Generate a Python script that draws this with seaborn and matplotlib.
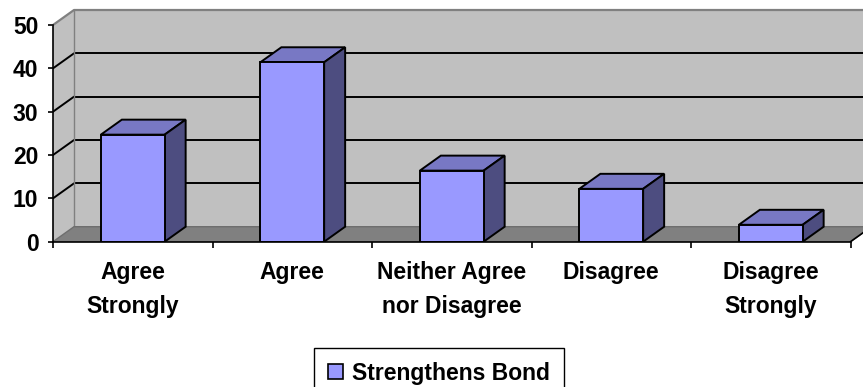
import matplotlib
matplotlib.use("Agg")
import matplotlib.pyplot as plt
from matplotlib.patches import Polygon, Patch
import seaborn as sns
import pandas as pd

categories = ["Agree\nStrongly", "Agree", "Neither Agree\nnor Disagree", "Disagree", "Disagree\nStrongly"]
values = [24.7, 41.4, 16.4, 12.2, 3.9]
series_name = "Strengthens Bond"
y_ticks = [0, 10, 20, 30, 40, 50]

FRONT = "#9999FF"
TOP = "#7878C4"
SIDE = "#4D4D80"
WALL = "#C0C0C0"
FLOOR = "#808080"
EDGE_GRAY = "#808080"

sns.set_theme(style="white")
plt.rcParams["font.family"] = ["Liberation Sans", "DejaVu Sans"]
plt.rcParams["font.weight"] = "bold"
plt.rcParams["text.color"] = "black"
plt.rcParams["xtick.labelcolor"] = "black"
plt.rcParams["ytick.labelcolor"] = "black"
FS = 16.5

W, H = 863, 387
fig = plt.figure(figsize=(W / 100, H / 100), dpi=100)

# axes box in pixels: front plane starts at x=53, floor front edge at y=241.7 (from top),
# top of the back wall at y=10
px_x = 159.5       # pixels per category
px_y = 216.7 / 50  # pixels per value unit
left, bottom_px, top_px = 53, 241.7, 10
ax = fig.add_axes([left / W, (H - bottom_px) / H, (W - left) / W, (bottom_px - top_px) / H])
xmax = -0.5 + (W - left) / px_x
ymax = (bottom_px - top_px) / px_y

# depth offsets of the oblique projection, in data units
dx = 21 / px_x
dy = 15 / px_y
x0 = -0.5
x1 = len(categories) - 0.5

# back wall and side wall
ax.add_patch(Polygon([(x0 + dx, dy), (xmax + 1, dy), (xmax + 1, 50 + dy), (x0 + dx, 50 + dy)],
                     closed=True, facecolor=WALL, edgecolor="none", zorder=0))
ax.add_patch(Polygon([(x0, 0), (x0 + dx, dy), (x0 + dx, 50 + dy), (x0, 50)],
                     closed=True, facecolor=WALL, edgecolor="none", zorder=0))
# gridlines on the back wall and the side wall
for v in y_ticks[1:-1]:
    ax.plot([x0 + dx, xmax + 1], [v + dy, v + dy], color="black", lw=1.4, zorder=1, solid_capstyle="butt")
    ax.plot([x0, x0 + dx], [v, v + dy], color="black", lw=1.4, zorder=1)
# wall outline
ax.plot([x0, x0 + dx, xmax + 1], [50, 50 + dy, 50 + dy], color=EDGE_GRAY, lw=1.6, zorder=1, clip_on=False)
ax.plot([x0 + dx, x0 + dx], [dy, 50 + dy], color=EDGE_GRAY, lw=1.0, zorder=1)
# floor
ax.add_patch(Polygon([(x0, 0), (x1, 0), (x1 + dx, dy), (x0 + dx, dy)],
                     closed=True, facecolor=FLOOR, edgecolor="#6E6E6E", lw=1.0, zorder=2))
ax.plot([x1, x1 + dx], [0, dy], color="black", lw=1.2, zorder=2)

df = pd.DataFrame({"category": categories, "value": values})
sns.barplot(data=df, x="category", y="value", width=0.4, color=FRONT,
            saturation=1, edgecolor="black", linewidth=1.4, ax=ax, zorder=5)

# top and side faces of each column
for bar in [p for p in ax.patches if p.get_zorder() == 5]:
    bx0 = bar.get_x()
    bx1 = bx0 + bar.get_width()
    h = bar.get_height()
    ax.add_patch(Polygon([(bx0, h), (bx0 + dx, h + dy), (bx1 + dx, h + dy), (bx1, h)],
                         closed=True, facecolor=TOP, edgecolor="black", lw=1.4, zorder=4))
    ax.add_patch(Polygon([(bx1, 0), (bx1, h), (bx1 + dx, h + dy), (bx1 + dx, dy)],
                         closed=True, facecolor=SIDE, edgecolor="black", lw=1.4, zorder=4))

# limits are set after barplot, which resets the categorical range
ax.set_xlim(-0.5, xmax)
ax.set_ylim(0, ymax)

# axes styling
ax.set_xlabel("")
ax.set_ylabel("")
for s in ["top", "right"]:
    ax.spines[s].set_visible(False)
ax.spines["left"].set_bounds(0, 50)
ax.spines["bottom"].set_bounds(x0, x1)
for s in ["left", "bottom"]:
    ax.spines[s].set_color("black")
    ax.spines[s].set_linewidth(1.2)
    ax.spines[s].set_zorder(6)

ax.set_yticks(y_ticks)
ax.set_yticklabels([str(t) for t in y_ticks], fontsize=FS, fontweight="bold", color="black")
ax.tick_params(axis="y", which="major", direction="out", length=3.5, width=1.2, color="black", pad=7, left=True)

ax.set_xticks(range(len(categories)))
ax.set_xticklabels(categories, fontsize=FS, fontweight="bold", linespacing=1.6, color="black")
ax.set_xticks([i - 0.5 for i in range(len(categories) + 1)], minor=True)
ax.tick_params(axis="x", which="major", length=0, pad=14)
ax.tick_params(axis="x", which="minor", direction="out", length=4, width=1.2, color="black", bottom=True)

handle = Patch(facecolor=FRONT, edgecolor="black", linewidth=1.2, label=series_name)
leg = fig.legend(handles=[handle], loc="upper center", bbox_to_anchor=(439 / W, (H - 348) / H),
                 frameon=True, fancybox=False, framealpha=1, edgecolor="black",
                 prop={"size": FS, "weight": "bold"}, handlelength=0.65, handleheight=0.65,
                 handletextpad=0.4, borderpad=0.6, borderaxespad=0, labelcolor="black")
leg.get_frame().set_linewidth(1.0)

fig.savefig("out.png", dpi=100)
